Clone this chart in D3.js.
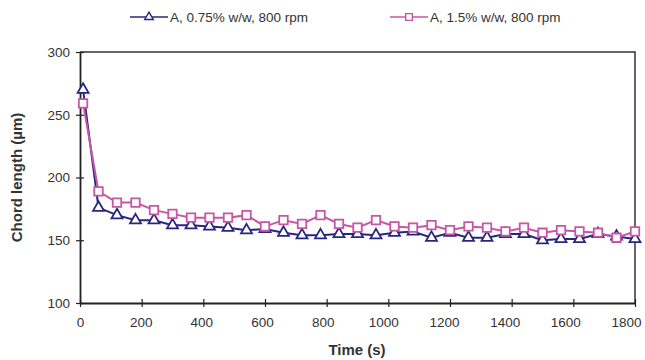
<!DOCTYPE html>
<html>
<head>
<meta charset="utf-8">
<script src="https://cdn.jsdelivr.net/npm/d3@7"></script>
<style>
  html, body { margin: 0; padding: 0; background: #fff; }
  svg { display: block; font-family: "Liberation Sans", Arial, sans-serif; }
</style>
</head>
<body>
<svg id="chart" width="645" height="360"></svg>
<script>
// Sampling times (s)
const times = [10, 60, 120, 180, 240, 300, 360, 420, 480, 540, 600, 660, 720, 780, 840, 900,
  960, 1020, 1080, 1140, 1200, 1260, 1320, 1380, 1440, 1500, 1560, 1620, 1680, 1740, 1800];

// Mean chord length (µm) for each run
const chordLow = [270, 176, 170, 166, 166, 162, 162, 161, 160, 158, 159, 156, 154, 154, 155, 155,
  154, 156, 157, 152, 156, 152, 152, 155, 155, 150, 151, 151, 155, 153, 151];
const chordHigh = [259, 189, 180, 180, 174, 171, 168, 168, 168, 170, 161, 166, 163, 170, 163, 160,
  166, 161, 160, 162, 158, 161, 160, 157, 160, 156, 158, 157, 156, 152, 157];

const seriesNames = ["A, 0.75% w/w, 800 rpm", "A, 1.5% w/w, 800 rpm"];
const xTicks = [0, 200, 400, 600, 800, 1000, 1200, 1400, 1600, 1800];
const yTicks = [100, 150, 200, 250, 300];

const colors = ["#27277f", "#c657a6"];

const svg = d3.select("#chart");
const m = { left: 80, right: 635, top: 52, bottom: 303 };

const x = d3.scaleLinear().domain([0, 1800]).range([m.left, m.right]);
const y = d3.scaleLinear().domain([100, 300]).range([m.bottom, m.top]);

// Plot frame (top and right edges)
svg.append("path")
  .attr("d", `M${m.left},${m.top}H${m.right}V${m.bottom}`)
  .attr("fill", "none").attr("stroke", "#333").attr("stroke-width", 1.5);

// Axes with ticks crossing the axis line
const xAxis = svg.append("g").attr("transform", `translate(0,${m.bottom})`)
  .call(d3.axisBottom(x).tickValues(xTicks).tickFormat(d3.format("d")).tickSize(0).tickPadding(14));
xAxis.selectAll(".tick").append("line").attr("y1", -4).attr("y2", 4);
// labels drift slightly left toward the right end so "1800" stays inside the page
xAxis.selectAll(".tick text").attr("dx", d => -d / 1800 * 9);
const yAxis = svg.append("g").attr("transform", `translate(${m.left},0)`)
  .call(d3.axisLeft(y).tickValues(yTicks).tickSize(0).tickPadding(10));
yAxis.selectAll(".tick").append("line").attr("x1", -4).attr("x2", 4);

[xAxis, yAxis].forEach(g => {
  g.select(".domain").attr("stroke", "#222").attr("stroke-width", 1.8);
  g.selectAll(".tick line").attr("stroke", "#222").attr("stroke-width", 1.2);
  g.selectAll(".tick text").attr("font-size", 13.5).attr("fill", "#333")
    .attr("font-family", "Liberation Sans, Arial, sans-serif");
});

// Axis titles
svg.append("text").attr("x", 357).attr("y", 355).attr("text-anchor", "middle")
  .attr("font-size", 15).attr("font-weight", "bold").attr("fill", "#333").text("Time (s)");
svg.append("text").attr("transform", `translate(22,${(m.top + m.bottom) / 2}) rotate(-90)`)
  .attr("text-anchor", "middle").attr("font-size", 15).attr("font-weight", "bold")
  .attr("fill", "#333").text("Chord length (µm)");

const line = d3.line().x(d => x(d[0])).y(d => y(d[1]));
const tri = d3.symbol().type(d3.symbolTriangle).size(52);
const sq = d3.symbol().type(d3.symbolSquare).size(72);

const series = [
  { name: seriesNames[0], values: chordLow, color: colors[0], sym: tri },
  { name: seriesNames[1], values: chordHigh, color: colors[1], sym: sq }
];

series.forEach(s => {
  const pts = times.map((t, i) => [t, s.values[i]]);
  svg.append("path").datum(pts).attr("d", line)
    .attr("fill", "none").attr("stroke", s.color).attr("stroke-width", 2);
  svg.append("g").selectAll("path").data(pts).join("path")
    .attr("transform", d => `translate(${x(d[0])},${y(d[1])})`)
    .attr("d", s.sym()).attr("fill", "#fff").attr("stroke", s.color).attr("stroke-width", 1.8);
});

// Legend
const legendX = [130, 390];
series.forEach((s, i) => {
  const g = svg.append("g").attr("transform", `translate(${legendX[i]},17)`);
  g.append("line").attr("x1", 0).attr("x2", 38).attr("stroke", s.color).attr("stroke-width", 1.6);
  g.append("path").attr("transform", "translate(19,0)").attr("d", s.sym.size(i === 0 ? 32 : 45)())
    .attr("fill", "#fff").attr("stroke", s.color).attr("stroke-width", 1.4);
  g.append("text").attr("x", 40).attr("y", 5).attr("font-size", 13.5).attr("fill", "#333").text(s.name);
});
</script>
</body>
</html>
